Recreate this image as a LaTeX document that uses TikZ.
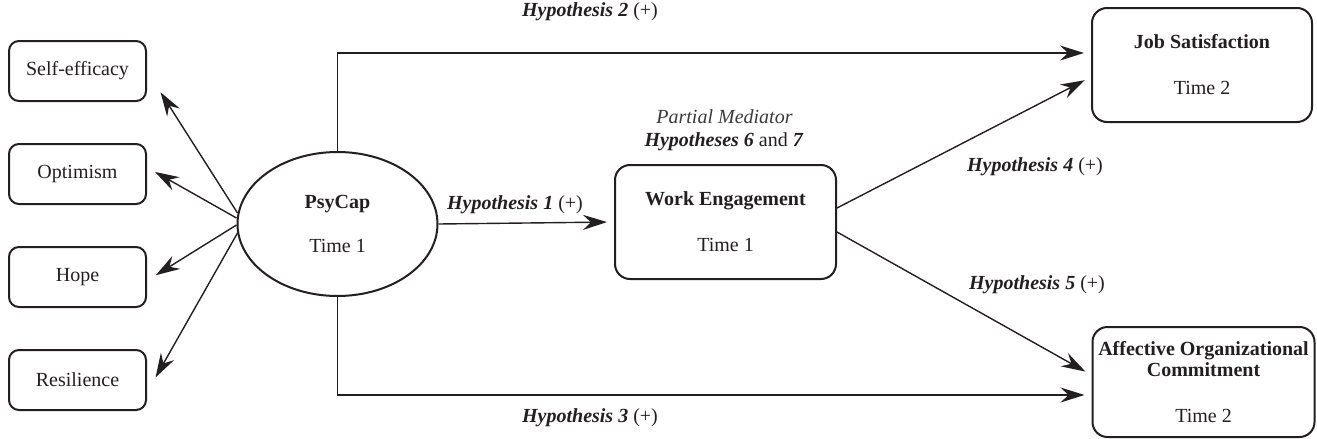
\documentclass[tikz,border=0pt]{standalone}
\usepackage{fontspec}
\setmainfont{Liberation Serif}
\usepackage{xcolor}
\definecolor{PathInk}{HTML}{231F20}
\definecolor{PathGrey}{HTML}{3A3A3A}
\usepackage{tikz}
\usetikzlibrary{positioning,arrows.meta,shapes.geometric,calc}
\tikzset{
  facet/.style={draw=PathInk,line width=1pt,rounded corners=5pt,align=center,inner sep=2pt,font=\fontsize{10}{12}\selectfont,text=PathInk,minimum width=68.5pt,minimum height=30pt},
  latent/.style={ellipse,draw=PathInk,line width=1pt,align=center,inner sep=0pt,font=\fontsize{10}{12}\selectfont,text=PathInk,minimum width=100pt,minimum height=72pt},
  outcome/.style={draw=PathInk,line width=1pt,rounded corners=7.5pt,align=center,inner sep=2pt,font=\fontsize{10}{12}\selectfont,text=PathInk,minimum width=110pt,minimum height=57pt},
  hflow/.style={-{Stealth[length=12pt,width=7.5pt,inset=4pt]},draw=PathInk,line width=0.7pt,shorten >=3.5pt},
  hlabel/.style={font=\fontsize{10}{12}\selectfont,text=PathInk,inner sep=0pt}
}
\newcommand{\hypnote}[1]{\textbf{\textit{Hypothesis #1}} (+)}

\begin{document}
\begin{tikzpicture}[x=0.5pt,y=-0.5pt,node distance=20.5pt]
  \useasboundingbox (0,0) rectangle (1317,439);
  % PsyCap facets
  \node[facet] (selfeff) at (77.5,71) {Self-efficacy};
  \node[facet,below=of selfeff] (optim) {Optimism};
  \node[facet,below=of optim] (hope) {Hope};
  \node[facet,below=of hope] (resil) {Resilience};
  % main constructs
  \node[latent] (psycap) at (337.5,224) {\textbf{PsyCap}\\[10pt]Time 1};
  \node[outcome,minimum width=110.5pt] (worken) at (725.5,222) {\textbf{Work Engagement}\\[11pt]Time 1};
  \node[outcome] (jobsat) at (1202,65) {\textbf{Job Satisfaction}\\[11pt]Time 2};
  \node[outcome,minimum width=111pt,minimum height=55pt] (affcom) at (1203.5,382) {\textbf{Affective Organizational}\\[-1.5pt]\textbf{Commitment}\\[11pt]Time 2};
  % labels
  \node[hlabel,text=PathGrey] (medlab) at (724.5,117) {\textit{Partial Mediator}};
  \node[hlabel] (medhyp) at (724,142) {\textbf{\textit{Hypotheses 6}} and \textbf{\textit{7}}};
  \node[hlabel] (h1lab) at (515,205) {\hypnote{1}};
  \node[hlabel] (h2lab) at (590,12) {\hypnote{2}};
  \node[hlabel] (h3lab) at (590,418) {\hypnote{3}};
  \node[hlabel] (h4lab) at (1035,167) {\hypnote{4}};
  \node[hlabel] (h5lab) at (1037,285) {\hypnote{5}};
  % facet arrows
  \draw[hflow,shorten >=12.6pt] ($(psycap.west)+(1,-11)$) -- (selfeff.east);
  \draw[hflow,shorten >=4.6pt] ($(psycap.west)+(0,-6)$) -- ($(optim.east)+(0,-6.6)$);
  \draw[hflow,shorten >=5.2pt] ($(psycap.west)+(0,1)$) -- ($(hope.east)+(0,3.7)$);
  \draw[hflow,shorten >=8.7pt] ($(psycap.west)+(1,9)$) -- ($(resil.east)+(0,12.5)$);
  % hypothesised paths
  \draw[hflow] (psycap.east) -- (worken.west);
  \draw[hflow] (psycap.north) |- ($(jobsat.west)+(0,-12)$);
  \draw[hflow] (psycap.south) |- ($(affcom.west)+(0,13)$);
  \draw[hflow] ($(worken.east)+(0,-14)$) -- ($(jobsat.west)+(0,12)$);
  \draw[hflow] ($(worken.east)+(0,10)$) -- ($(affcom.west)+(0,-7)$);
\end{tikzpicture}
\end{document}
